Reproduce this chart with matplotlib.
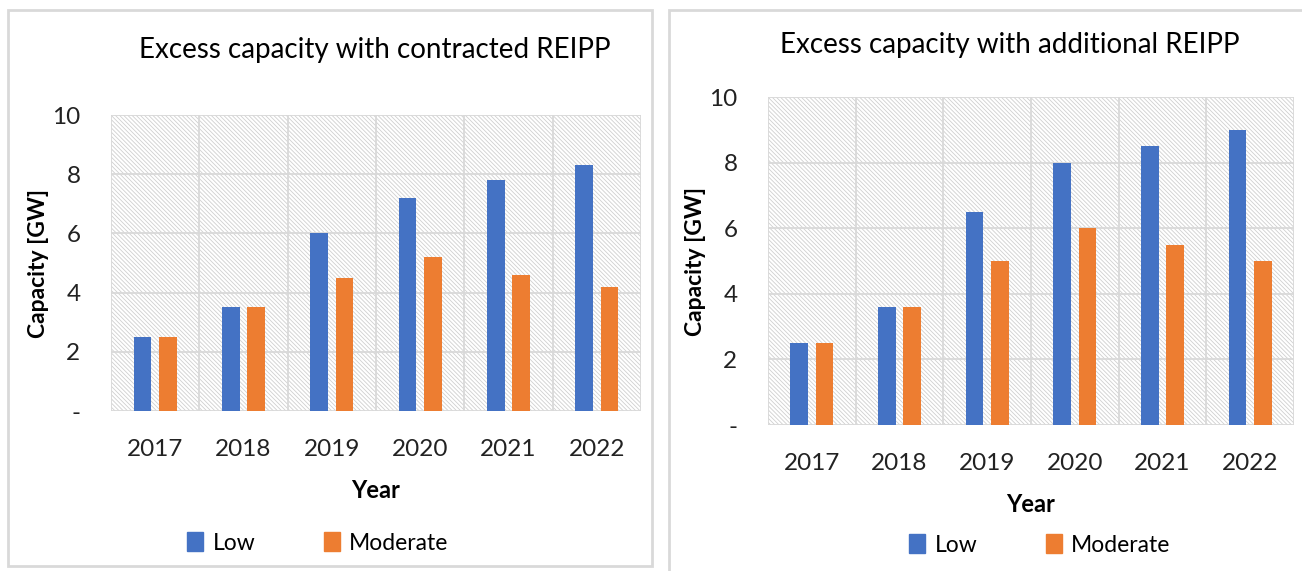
import matplotlib
matplotlib.use("Agg")
from matplotlib import pyplot as plt
from matplotlib.patches import Rectangle, Patch
import numpy as np

# data
years = ["2017", "2018", "2019", "2020", "2021", "2022"]
contracted_low = [2.5, 3.5, 6.0, 7.2, 7.8, 8.3]
contracted_moderate = [2.5, 3.5, 4.5, 5.2, 4.6, 4.2]
additional_low = [2.5, 3.6, 6.5, 8.0, 8.5, 9.0]
additional_moderate = [2.5, 3.6, 5.0, 6.0, 5.5, 5.0]
y_ticks = [0, 2, 4, 6, 8, 10]
y_tick_labels = ["-", "2", "4", "6", "8", "10"]

blue = "#4472C4"
orange = "#ED7D31"
grid_grey = "#d9d9d9"

plt.rcParams['font.family'] = ['Lato', 'DejaVu Sans']
plt.rcParams['hatch.linewidth'] = 0.6

W, H = 1302, 571
fig = plt.figure(figsize=(W / 100, H / 100), dpi=100)


def px_axes(x0, y0, x1, y1):
    # pixel box (top-left origin) -> figure fraction axes
    return fig.add_axes([x0 / W, 1 - y1 / H, (x1 - x0) / W, (y1 - y0) / H])


def panel_border(x0, y0, x1, y1):
    fig.patches.append(Rectangle((x0 / W, 1 - y1 / H), (x1 - x0) / W, (y1 - y0) / H,
                                 transform=fig.transFigure, fill=False,
                                 edgecolor=grid_grey, linewidth=2))


def draw_panel(ax, low, moderate, title, title_y, title_x, legend_y, legend_x):
    x = np.arange(len(years))
    width = 0.2
    ax.bar(x - 0.145, low, width, color=blue, zorder=3)
    ax.bar(x + 0.145, moderate, width, color=orange, zorder=3)

    ax.set_xlim(-0.5, len(years) - 0.5)
    ax.set_ylim(0, 10)
    ax.set_yticks(y_ticks)
    ax.set_yticklabels(y_tick_labels)
    ax.set_xticks(x)
    ax.set_xticklabels(years)
    ax.tick_params(axis="both", length=0, labelsize=17.5, colors="#222222")
    ax.tick_params(axis="x", pad=20)
    ax.tick_params(axis="y", pad=22)

    # hatched plot area
    ax.add_patch(Rectangle((0, 0), 1, 1, transform=ax.transAxes, facecolor="white",
                           edgecolor="#cfcfcf", linewidth=0, hatch="\\\\\\\\\\\\\\\\",
                           zorder=0))

    # vertical grid at category boundaries, horizontal at ticks
    for b in np.arange(-0.5, len(years) + 0.5, 1):
        ax.axvline(b, color=grid_grey, linewidth=1.3, zorder=1)
    for t in y_ticks:
        ax.axhline(t, color=grid_grey, linewidth=1.3, zorder=1)

    for s in ax.spines.values():
        s.set_visible(False)

    ax.set_xlabel("Year", fontsize=17, fontweight="bold", labelpad=14)
    ax.set_ylabel("Capacity [GW]", fontsize=16.5, fontweight="bold", labelpad=2)

    fig.text(title_x / W, 1 - title_y / H, title, fontsize=20, ha="center", va="center")

    handles = [Patch(color=blue, label="Low"), Patch(color=orange, label="Moderate")]
    fig.legend(handles=handles, loc="center", bbox_to_anchor=(legend_x / W, 1 - legend_y / H),
               ncol=2, frameon=False, fontsize=16.5, handlelength=0.7, handleheight=0.9,
               handletextpad=0.4, columnspacing=3.0)


panel_border(8, 10, 652, 566)
panel_border(669, 10, 1310, 575)

ax1 = px_axes(111, 115, 641, 411)
draw_panel(ax1, contracted_low, contracted_moderate,
           "Excess capacity with contracted REIPP", 50, 375, 543, 318)

ax2 = px_axes(768, 97, 1294, 425)
draw_panel(ax2, additional_low, additional_moderate,
           "Excess capacity with additional REIPP", 45, 1010, 545, 1040)

fig.savefig("out.png", dpi=100)
